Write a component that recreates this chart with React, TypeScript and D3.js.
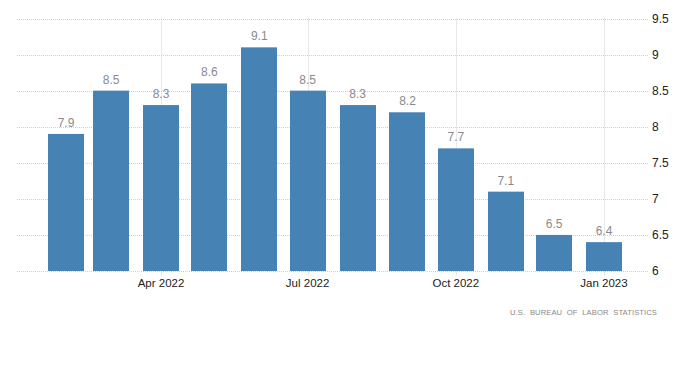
import React, { useEffect, useRef } from "react";
import * as d3 from "d3";

const months = ["2022-02", "2022-03", "2022-04", "2022-05", "2022-06", "2022-07", "2022-08", "2022-09", "2022-10", "2022-11", "2022-12", "2023-01"];
const values = [7.9, 8.5, 8.3, 8.6, 9.1, 8.5, 8.3, 8.2, 7.7, 7.1, 6.5, 6.4];
const tickMonths = ["2022-04", "2022-07", "2022-10", "2023-01"];
const yTicks = [6, 6.5, 7, 7.5, 8, 8.5, 9, 9.5];

const parse = d3.timeParse("%Y-%m");

export default function App() {
  const ref = useRef<SVGSVGElement>(null);

  useEffect(() => {
    const svg = d3.select(ref.current);
    svg.selectAll("*").remove();
    const font = "'Liberation Sans', Arial, sans-serif";
    const barW = 36;

    const x = d3.scaleTime()
      .domain([parse(months[0])!, parse(months[months.length - 1])!])
      .range([66, 604]);
    const y = d3.scaleLinear().domain([6, 9.5]).range([271, 18.5]);
    const fmt = d3.timeFormat("%b %Y");

    // horizontal grid
    svg.append("g")
      .selectAll("line")
      .data(yTicks)
      .enter().append("line")
      .attr("x1", 17).attr("x2", 648)
      .attr("y1", d => Math.round(y(d)) + 0.5).attr("y2", d => Math.round(y(d)) + 0.5)
      .attr("stroke", "#d0d0d0").attr("stroke-dasharray", "1,1");

    // vertical grid at tick months
    svg.append("g")
      .selectAll("line")
      .data(tickMonths)
      .enter().append("line")
      .attr("x1", d => Math.round(x(parse(d)!)) + 0.5)
      .attr("x2", d => Math.round(x(parse(d)!)) + 0.5)
      .attr("y1", 18.5).attr("y2", 276)
      .attr("stroke", "#d0d0d0").attr("stroke-dasharray", "1,1");

    svg.append("g")
      .selectAll("rect")
      .data(values)
      .enter().append("rect")
      .attr("x", (d, i) => Math.round(x(parse(months[i])!) - barW / 2))
      .attr("y", d => y(d))
      .attr("width", barW)
      .attr("height", d => y(6) - y(d))
      .attr("fill", "#4682b4");

    svg.append("g")
      .selectAll("text")
      .data(values)
      .enter().append("text")
      .attr("x", (d, i) => x(parse(months[i])!))
      .attr("y", d => y(d) - 7)
      .attr("text-anchor", "middle")
      .attr("font-family", font).attr("font-size", 12)
      .attr("fill", "#8a8a8a")
      .text(d => d3.format(".1f")(d));

    svg.append("g")
      .selectAll("text")
      .data(yTicks)
      .enter().append("text")
      .attr("x", 652)
      .attr("y", d => y(d) + 4)
      .attr("font-family", font).attr("font-size", 12)
      .attr("fill", "#222")
      .text(d => String(d));

    svg.append("g")
      .selectAll("text")
      .data(tickMonths)
      .enter().append("text")
      .attr("x", d => x(parse(d)!))
      .attr("y", 287)
      .attr("text-anchor", "middle")
      .attr("font-family", font).attr("font-size", 11.5)
      .attr("fill", "#222")
      .text(d => fmt(parse(d)!));

    svg.append("text")
      .attr("x", 657).attr("y", 315)
      .attr("text-anchor", "end")
      .attr("font-family", font).attr("font-size", 7.6)
      .attr("letter-spacing", 0.1)
      .attr("word-spacing", 2.5)
      .attr("fill", "#888")
      .text("U.S. BUREAU OF LABOR STATISTICS");
  }, []);

  return (
    <svg ref={ref} width={700} height={371} style={{ position: "absolute", left: 0, top: 0 }} />
  );
}
